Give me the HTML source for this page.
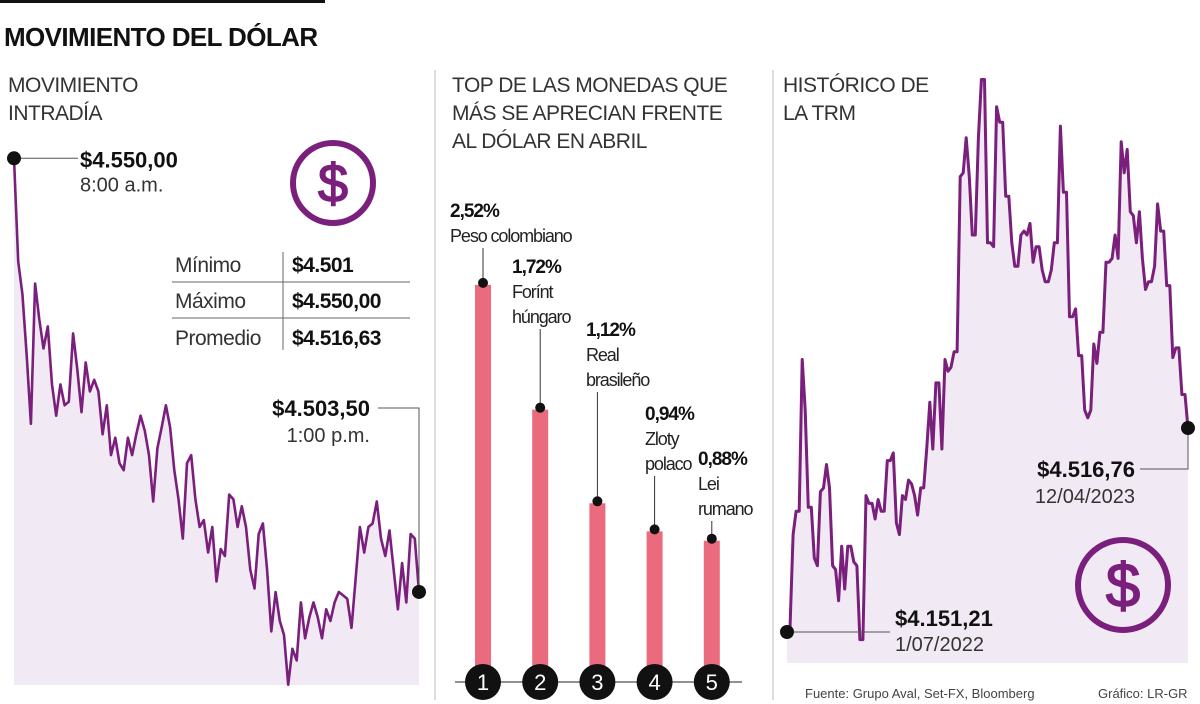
<!DOCTYPE html>
<html><head><meta charset="utf-8">
<style>
html,body{margin:0;padding:0;background:#fff;}
svg{display:block;font-family:"Liberation Sans",sans-serif;}
.t{font-size:21px;fill:#333;letter-spacing:-0.5px;}
.b{font-weight:bold;fill:#111;}
</style></head><body>
<svg id="chart" width="1200" height="704" viewBox="0 0 1200 704">
<rect x="0" y="0" width="325" height="3" fill="#111"/>
<text x="4" y="46" font-size="26" font-weight="bold" fill="#111" letter-spacing="-0.6">MOVIMIENTO DEL DÓLAR</text>
<line x1="435" y1="70" x2="435" y2="700" stroke="#bbb" stroke-width="1"/>
<line x1="773" y1="70" x2="773" y2="700" stroke="#bbb" stroke-width="1"/>

<g><text class="t" x="8" y="92">MOVIMIENTO</text><text class="t" x="8" y="120">INTRADÍA</text></g>
<g><text class="t" x="452" y="92">TOP DE LAS MONEDAS QUE</text><text class="t" x="452" y="120">MÁS SE APRECIAN FRENTE</text><text class="t" x="452" y="148">AL DÓLAR EN ABRIL</text></g>
<g><text class="t" x="783" y="92">HISTÓRICO DE</text><text class="t" x="783" y="120">LA TRM</text></g>

<g id="intraday"></g>
<g id="bars"></g>
<g id="trm"></g>

<g><circle cx="333" cy="183" r="40" fill="none" stroke="#7a1f7c" stroke-width="6"/><text x="333" y="202" font-size="54" text-anchor="middle" fill="#7a1f7c" stroke="#7a1f7c" stroke-width="1.5">$</text></g>
<g><circle cx="1123" cy="585" r="45" fill="none" stroke="#7a1f7c" stroke-width="6"/><text x="1123" y="607" font-size="62" text-anchor="middle" fill="#7a1f7c" stroke="#7a1f7c" stroke-width="1.5">$</text></g>

<g>
<line x1="172" y1="282" x2="410" y2="282" stroke="#666"/><line x1="172" y1="318" x2="410" y2="318" stroke="#666"/>
<line x1="283" y1="252" x2="283" y2="350" stroke="#666"/>
<text class="t" x="175" y="272" font-size="22">Mínimo</text><text class="t b" x="292" y="272">$4.501</text>
<text class="t" x="175" y="308" font-size="22">Máximo</text><text class="t b" x="292" y="308">$4.550,00</text>
<text class="t" x="175" y="345" font-size="22">Promedio</text><text class="t b" x="292" y="345">$4.516,63</text>
</g>

<text x="805" y="698" font-size="13" fill="#444">Fuente: Grupo Aval, Set-FX, Bloomberg</text>
<text x="1098" y="698" font-size="13" fill="#444">Gráfico: LR-GR</text>
</svg>
<script>
const NS="http://www.w3.org/2000/svg";
const intradayValues=[4550.0,4541.1,4538.3,4533.0,4527.1,4539.2,4536.1,4533.6,4535.5,4530.5,4527.8,4530.5,4528.7,4529.0,4534.9,4531.8,4528.1,4532.4,4529.9,4530.9,4529.9,4526.2,4528.7,4524.4,4525.9,4523.7,4523.1,4525.9,4524.4,4526.2,4527.8,4526.5,4524.4,4520.4,4525.0,4526.8,4528.7,4526.8,4523.1,4520.6,4517.2,4523.7,4524.4,4520.6,4518.2,4518.8,4516.0,4518.2,4513.5,4516.3,4515.7,4521.0,4520.6,4518.2,4520.0,4518.2,4514.5,4512.9,4517.6,4518.5,4514.5,4509.2,4512.6,4510.1,4508.9,4504.6,4507.7,4506.7,4511.7,4508.6,4510.4,4511.7,4510.4,4508.6,4511.1,4510.1,4511.7,4512.6,4512.3,4512.0,4509.5,4513.8,4518.2,4516.0,4518.2,4518.5,4520.4,4517.2,4515.7,4517.9,4514.5,4511.1,4515.1,4511.7,4517.6,4517.2,4512.6];
const barCategories=["Peso colombiano","Forínt húngaro","Real brasileño","Zloty polaco","Lei rumano"];
const barValues=[2.52,1.72,1.12,0.94,0.88];
const barLabels=["2,52%","1,72%","1,12%","0,94%","0,88%"];
const trmValues=[4151.21,4158.5,4325.8,4367.7,4367.7,4639.5,4548.9,4374.6,4374.6,4284.0,4270.1,4402.5,4409.5,4451.3,4409.5,4270.1,4263.1,4207.3,4304.9,4228.2,4304.9,4304.9,4277.0,4270.1,4137.6,4137.6,4395.6,4381.6,4381.6,4353.7,4388.6,4367.7,4367.7,4458.3,4458.3,4472.2,4346.7,4325.8,4395.6,4388.6,4423.4,4416.4,4395.6,4360.7,4409.5,4409.5,4479.2,4562.8,4479.2,4597.7,4597.7,4479.2,4639.5,4618.6,4625.6,4653.5,4653.5,4967.2,4974.2,5036.9,4967.2,4862.6,4862.6,5036.9,5141.4,5141.4,4848.7,4848.7,4841.7,5092.6,5064.8,5064.8,4932.3,4932.3,4848.7,4806.8,4806.8,4862.6,4869.6,4862.6,4883.5,4813.8,4841.7,4841.7,4799.9,4779.0,4779.0,4799.9,4848.7,4848.7,5057.8,4939.3,4939.3,4716.2,4716.2,4730.2,4646.5,4646.5,4548.9,4535.0,4548.9,4667.4,4632.6,4688.3,4688.3,4813.8,4813.8,4820.8,4862.6,4820.8,5029.9,4974.2,5016.0,4904.4,4897.5,4848.7,4904.4,4820.8,4765.0,4779.0,4779.0,4806.8,4918.4,4869.6,4869.6,4772.0,4772.0,4643.0,4660.4,4660.4,4576.8,4576.8,4516.76];

function el(tag,attrs,parent,txt){const e=document.createElementNS(NS,tag);for(const k in attrs)e.setAttribute(k,attrs[k]);if(txt!==undefined)e.textContent=txt;parent.appendChild(e);return e;}

// Intraday
(function(){
 const g=document.getElementById('intraday');
 const x0=14,x1=419,base=685;
 const xs=i=>x0+(x1-x0)*i/(intradayValues.length-1);
 const ys=v=>158.3+(4550-v)*11.595;
 let d=intradayValues.map((v,i)=>(i?'L':'M')+xs(i).toFixed(1)+','+ys(v).toFixed(1)).join('');
 const a=el('path',{d:d+'L'+x1+','+base+'L'+x0+','+base+'Z',fill:'#f1e9f4'},g);
 
 
 const l=el('path',{d:d,fill:'none',stroke:'#7a1f7c','stroke-width':2.6,'stroke-linejoin':'round'},g);
 
 
 const n=intradayValues.length-1;
 const sy=ys(intradayValues[0]),ey=ys(intradayValues[n]);
 el('line',{x1:x0,y1:sy,x2:78,y2:sy,stroke:'#555'},g);
 const d1=el('circle',{cx:x0,cy:sy,r:7,fill:'#111'},g);
 
 
 el('text',{x:80,y:sy+9,'font-size':22,'font-weight':'bold',fill:'#111'},g,'$4.550,00');
 el('text',{x:80,y:sy+33,'font-size':20,fill:'#333'},g,'8:00 a.m.');
 el('polyline',{points:`378,408 ${x1},408 ${x1},${ey}`,fill:'none',stroke:'#555'},g);
 const d2=el('circle',{cx:x1,cy:ey,r:7,fill:'#111'},g);
 
 
 el('text',{x:370,y:416,'font-size':22,'font-weight':'bold',fill:'#111','text-anchor':'end'},g,'$4.503,50');
 el('text',{x:370,y:442,'font-size':20,fill:'#333','text-anchor':'end'},g,'1:00 p.m.');
})();

// Bars
(function(){
 const g=document.getElementById('bars');
 const base=678,k=156,xc=i=>483+i*57.2;
 const labelX=[450,512,586,645,698],labelY=[217,273,336,420,465];
 el('line',{x1:455,y1:682,x2:742,y2:682,stroke:'#222'},g);
 barValues.forEach((v,i)=>{
  const top=base-v*k;
  const r=el('rect',{x:xc(i)-8,y:top,width:16,height:682-top,fill:'#ea6a7e'},g);
  
  
  const words=barCategories[i].split(' ');
  const lines=i===0?[barCategories[i]]:words;
  const lastY=labelY[i]+lines.length*25;
  el('line',{x1:xc(i),y1:top-2,x2:xc(i),y2:lastY+6,stroke:'#333'},g);
  el('circle',{cx:xc(i),cy:top-2,r:5,fill:'#111'},g);
  const t=el('text',{x:labelX[i],y:labelY[i],'font-size':19,'font-weight':'bold',fill:'#111','letter-spacing':'-1'},g,barLabels[i]);
  
  
  lines.forEach((w,j)=>{el('text',{x:labelX[i],y:labelY[i]+25*(j+1),'font-size':18,fill:'#222','letter-spacing':'-1.1'},g,w);});
  const c=el('circle',{cx:xc(i),cy:682,r:18,fill:'#111'},g);
  
  
  el('text',{x:xc(i),y:690,'font-size':22,fill:'#fff','text-anchor':'middle'},g,String(i+1));
 });
})();

// TRM
(function(){
 const g=document.getElementById('trm');
 const x0=787,x1=1188,base=663;
 const xs=i=>x0+(x1-x0)*i/(trmValues.length-1);
 const ys=v=>632-(v-4151.21)*0.558;
 let d=trmValues.map((v,i)=>(i?'L':'M')+xs(i).toFixed(1)+','+ys(v).toFixed(1)).join('');
 const a=el('path',{d:d+'L'+x1+','+base+'L'+x0+','+base+'Z',fill:'#f1e9f4'},g);
 
 
 const l=el('path',{d:d,fill:'none',stroke:'#7a1f7c','stroke-width':3,'stroke-linejoin':'round'},g);
 
 
 const sy=ys(trmValues[0]),ey=ys(trmValues[trmValues.length-1]);
 el('line',{x1:x0,y1:sy,x2:890,y2:sy,stroke:'#555'},g);
 const d1=el('circle',{cx:x0,cy:sy,r:7,fill:'#111'},g);
 
 
 el('text',{x:895,y:626,'font-size':22,'font-weight':'bold',fill:'#111'},g,'$4.151,21');
 el('text',{x:895,y:651,'font-size':20,fill:'#333'},g,'1/07/2022');
 el('polyline',{points:`${x1},${ey} ${x1},469 1140,469`,fill:'none',stroke:'#555'},g);
 const d2=el('circle',{cx:x1,cy:ey,r:7,fill:'#111'},g);
 
 
 el('text',{x:1135,y:477,'font-size':22,'font-weight':'bold',fill:'#111','text-anchor':'end'},g,'$4.516,76');
 el('text',{x:1135,y:503,'font-size':20,fill:'#333','text-anchor':'end'},g,'12/04/2023');
})();
</script>
</body></html>
